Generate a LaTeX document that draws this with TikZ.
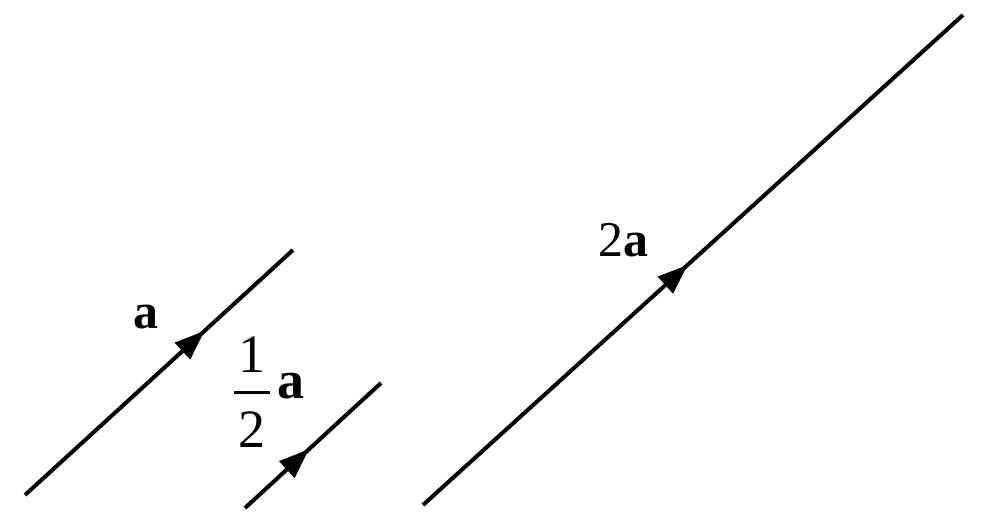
\documentclass[tikz,border=0pt]{standalone}
\usepackage{amsmath}
\usepackage{fontspec}
\setmainfont{Liberation Serif}
\usetikzlibrary{arrows.meta, decorations.markings}
\tikzset{vec/.style={line width=4pt, decoration={markings, mark=at position #1 with {\arrow{Triangle[length=30pt,width=22pt]}}}, postaction={decorate}}}
\tikzset{lbl/.style={inner sep=0pt, font=\fontsize{50}{50}\selectfont}}

\begin{document}
\begin{tikzpicture}[x=1pt, y=-1pt]
\useasboundingbox (0,0) rectangle (982,524);

\coordinate (a1) at (25,495);
\coordinate (a2) at (293,250);
\coordinate (h1) at (245,508);
\coordinate (h2) at (381,383);
\coordinate (d1) at (423,505);
\coordinate (d2) at (963,15);

\draw[vec=0.67] (a1)--(a2);
\draw[vec=0.47] (h1)--(h2);
\draw[vec=0.49] (d1)--(d2);

\node[lbl] (la) at (146,317) {\textbf{a}};
\node[lbl, font=\fontsize{54}{54}\selectfont] (lh) at (269,392) {$\genfrac{}{}{2.5pt}{0}{\,\text{1}\rule[-11pt]{0pt}{11pt}\,}{\,\rule{0pt}{46pt}\text{2}\,}\;\text{\textbf{a}}$};
\node[lbl] (ld) at (623,240) {2\textbf{a}};

\end{tikzpicture}
\end{document}
